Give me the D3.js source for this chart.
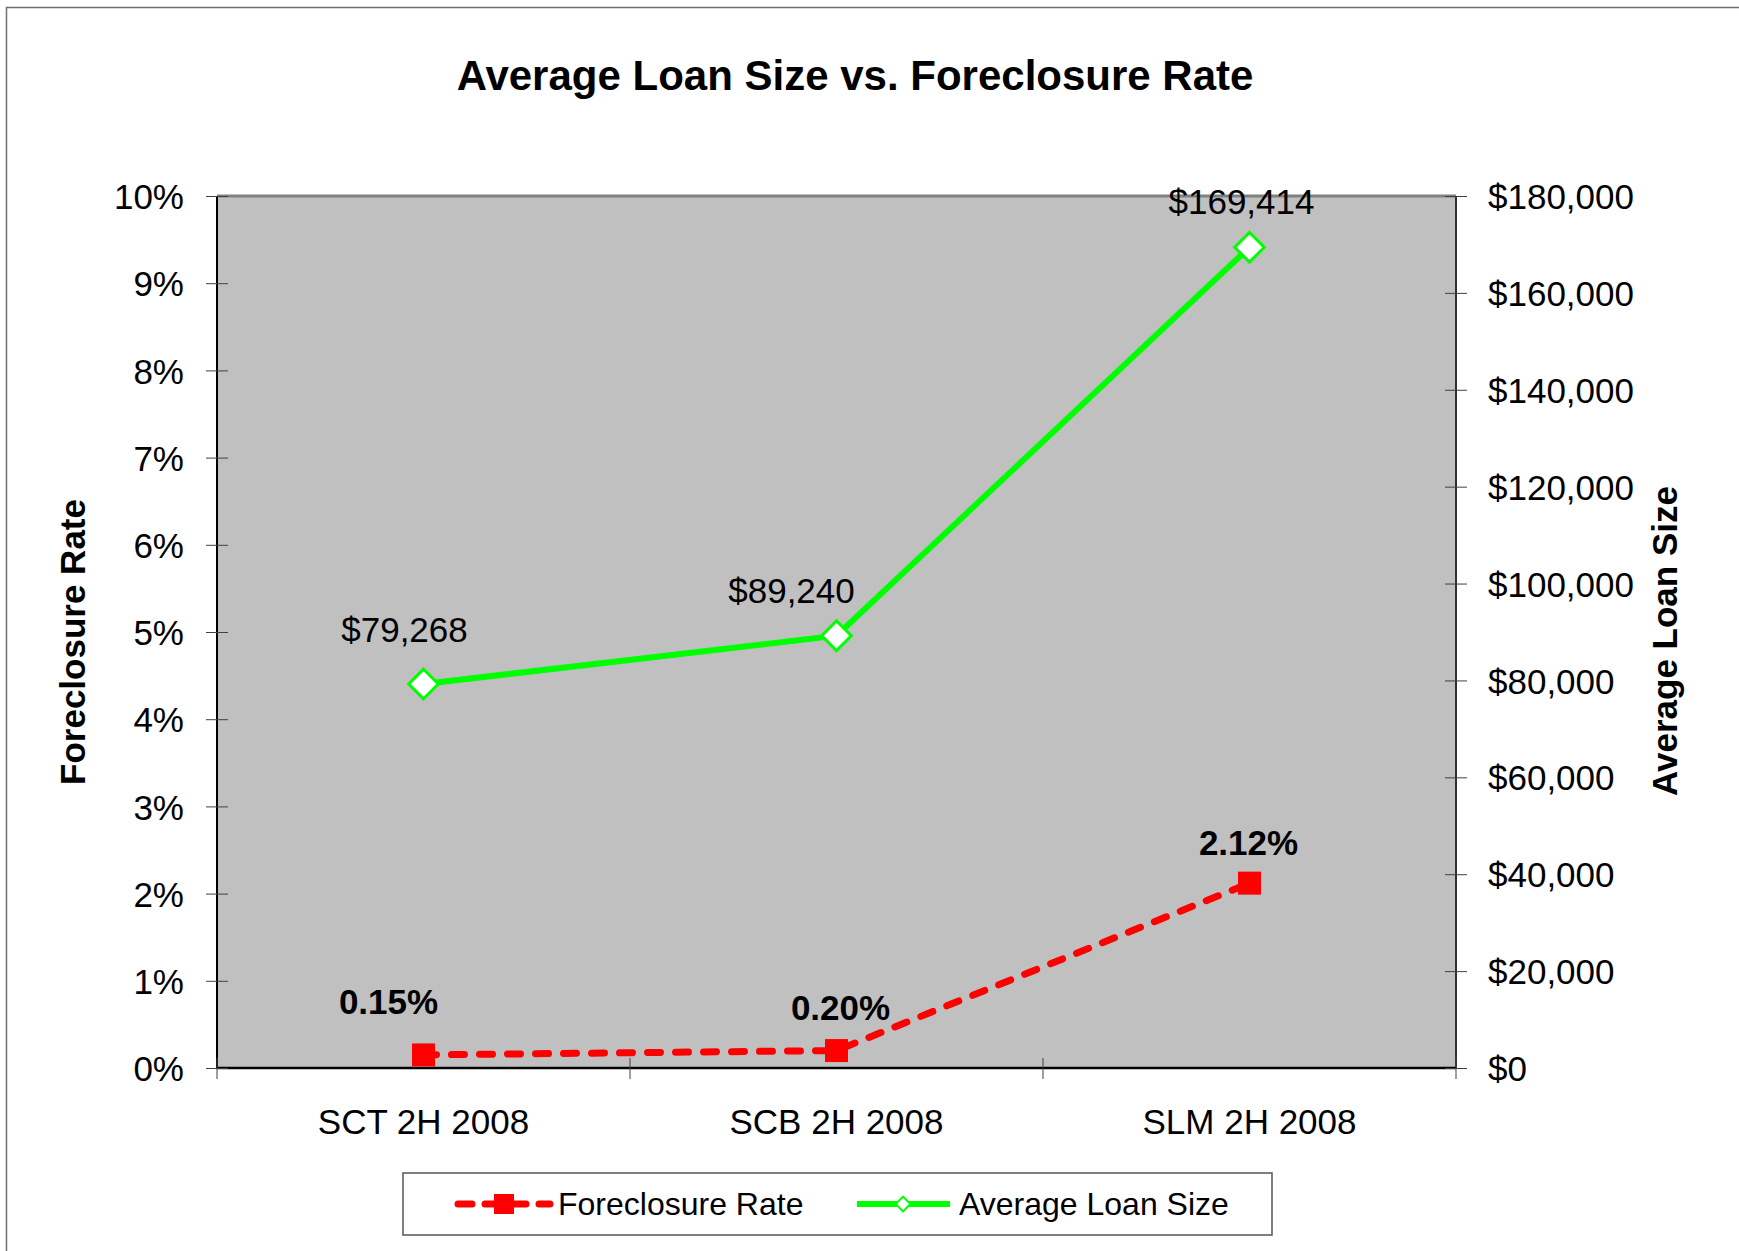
<!DOCTYPE html>
<html lang="en">
<head>
<meta charset="utf-8">
<title>Average Loan Size vs. Foreclosure Rate</title>
<script src="https://cdn.jsdelivr.net/npm/d3@7"></script>
<style>
  body { margin: 0; background: #fff; }
  svg text { font-family: "Liberation Sans", Arial, sans-serif; fill: #000; }
  .axis path { display: none; }
  .axis line { stroke: #404040; stroke-width: 1; }
  .axis text { font-size: 35px; }
</style>
</head>
<body>
<script>
// data
const categories = ["SCT 2H 2008", "SCB 2H 2008", "SLM 2H 2008"];
const foreclosureRate = [0.0015, 0.0020, 0.0212];
const avgLoanSize = [79268, 89240, 169414];
const rateTicks = [0, 0.01, 0.02, 0.03, 0.04, 0.05, 0.06, 0.07, 0.08, 0.09, 0.10];
const loanTicks = [0, 20000, 40000, 60000, 80000, 100000, 120000, 140000, 160000, 180000];

const W = 1739, H = 1251;
const margin = {top: 196, right: 283, bottom: 183, left: 217};
const iw = W - margin.left - margin.right,
      ih = H - margin.top - margin.bottom;

const svg = d3.select("body").append("svg")
    .attr("width", W).attr("height", H);

// outer chart frame (runs off right/bottom edge like the original)
svg.append("rect")
    .attr("x", 6.5).attr("y", 7.5)
    .attr("width", W + 20).attr("height", H + 20)
    .attr("fill", "none").attr("stroke", "#707070").attr("stroke-width", 1.5);

svg.append("text")
    .attr("x", 855).attr("y", 90)
    .attr("text-anchor", "middle")
    .attr("font-size", 42).attr("font-weight", "bold")
    .text("Average Loan Size vs. Foreclosure Rate");

const g = svg.append("g").attr("transform", `translate(${margin.left},${margin.top})`);

const x = d3.scaleBand().domain(categories).range([0, iw]);
const yL = d3.scaleLinear().domain([0, 0.10]).range([ih, 0]);
const yR = d3.scaleLinear().domain([0, 180000]).range([ih, 0]);

// plot area
g.append("rect").attr("width", iw).attr("height", ih).attr("fill", "#c0c0c0");
g.append("line").attr("x1", 0).attr("x2", iw).attr("y1", 0).attr("y2", 0)
    .attr("stroke", "#808080").attr("stroke-width", 3);
g.append("line").attr("x1", iw).attr("x2", iw).attr("y1", 0).attr("y2", ih)
    .attr("stroke", "#303030").attr("stroke-width", 2);
g.append("line").attr("x1", 0).attr("x2", 0).attr("y1", 0).attr("y2", ih)
    .attr("stroke", "#000").attr("stroke-width", 2);
g.append("line").attr("x1", 0).attr("x2", iw).attr("y1", ih).attr("y2", ih)
    .attr("stroke", "#000").attr("stroke-width", 2.5);

// axes
const fmtPct = d3.format(".0%");
const fmtUsd = d => "$" + d3.format(",")(d);

const gL = g.append("g").attr("class", "axis")
    .call(d3.axisLeft(yL).tickValues(rateTicks).tickFormat(fmtPct).tickSize(11).tickPadding(22));
gL.selectAll(".tick line").attr("x1", 11);

const gR = g.append("g").attr("class", "axis").attr("transform", `translate(${iw},0)`)
    .call(d3.axisRight(yR).tickValues(loanTicks).tickFormat(fmtUsd).tickSize(11).tickPadding(21));
gR.selectAll(".tick line").attr("x1", -11);
gR.selectAll(".tick text").attr("dy", "0.36em");
gL.selectAll(".tick text").attr("dy", "0.36em");

// x ticks on band boundaries
const bounds = d3.range(categories.length + 1).map(i => i * x.step());
g.selectAll(".xtick").data(bounds).join("line")
    .attr("x1", d => d).attr("x2", d => d)
    .attr("y1", ih - 10).attr("y2", ih + 11)
    .attr("stroke", "#404040");
g.selectAll(".xlab").data(categories).join("text")
    .attr("x", d => x(d) + x.bandwidth() / 2)
    .attr("y", ih + 66)
    .attr("text-anchor", "middle").attr("font-size", 35)
    .text(d => d);

// axis titles
svg.append("text")
    .attr("transform", "translate(85,642) rotate(-90)")
    .attr("text-anchor", "middle").attr("font-size", 35).attr("font-weight", "bold")
    .text("Foreclosure Rate");
svg.append("text")
    .attr("transform", "translate(1677,641) rotate(-90)")
    .attr("text-anchor", "middle").attr("font-size", 35).attr("font-weight", "bold")
    .text("Average Loan Size");

const cx = i => x(categories[i]) + x.bandwidth() / 2;

// average loan size series
g.append("path")
    .datum(avgLoanSize)
    .attr("fill", "none").attr("stroke", "#00ff00").attr("stroke-width", 6)
    .attr("d", d3.line().x((d, i) => cx(i)).y(d => yR(d)));
const diamond = d3.symbol().type(d3.symbolSquare).size(441);
g.selectAll(".dia").data(avgLoanSize).join("path")
    .attr("d", diamond)
    .attr("transform", (d, i) => `translate(${cx(i)},${yR(d)}) rotate(45)`)
    .attr("fill", "#fff").attr("stroke", "#00ff00").attr("stroke-width", 3);

// foreclosure rate series
g.append("path")
    .datum(foreclosureRate)
    .attr("fill", "none").attr("stroke", "#ff0000").attr("stroke-width", 7)
    .attr("stroke-dasharray", "13,15").attr("stroke-linecap", "round")
    .attr("d", d3.line().x((d, i) => cx(i)).y(d => yL(d)));
g.selectAll(".sq").data(foreclosureRate).join("rect")
    .attr("x", (d, i) => cx(i) - 11.5).attr("y", d => yL(d) - 11.5)
    .attr("width", 23).attr("height", 23).attr("fill", "#ff0000");

// data labels (hand-placed in the original, so nudged here)
const loanNudge = [[-19, -42], [-45, -33], [-8, -33]];
g.selectAll(".ll").data(avgLoanSize).join("text")
    .attr("x", (d, i) => cx(i) + loanNudge[i][0])
    .attr("y", (d, i) => yR(d) + loanNudge[i][1])
    .attr("text-anchor", "middle").attr("font-size", 35)
    .text(d => fmtUsd(d));
const rateNudge = [[-35, -41], [4, -31], [-1, -28]];
g.selectAll(".rl").data(foreclosureRate).join("text")
    .attr("x", (d, i) => cx(i) + rateNudge[i][0])
    .attr("y", (d, i) => yL(d) + rateNudge[i][1])
    .attr("text-anchor", "middle").attr("font-size", 35).attr("font-weight", "bold")
    .text(d => d3.format(".2%")(d));

// legend
const lg = svg.append("g").attr("transform", "translate(403,1173)");
lg.append("rect").attr("width", 869).attr("height", 62)
    .attr("fill", "#fff").attr("stroke", "#555").attr("stroke-width", 1.5);
lg.append("line").attr("x1", 55).attr("x2", 147).attr("y1", 31).attr("y2", 31)
    .attr("stroke", "#ff0000").attr("stroke-width", 7)
    .attr("stroke-dasharray", "14,13").attr("stroke-linecap", "round");
lg.append("rect").attr("x", 91).attr("y", 21).attr("width", 20).attr("height", 20).attr("fill", "#ff0000");
lg.append("text").attr("x", 155).attr("y", 42).attr("font-size", 32).text("Foreclosure Rate");
lg.append("line").attr("x1", 454).attr("x2", 547).attr("y1", 31).attr("y2", 31)
    .attr("stroke", "#00ff00").attr("stroke-width", 6);
lg.append("path").attr("d", d3.symbol().type(d3.symbolSquare).size(110))
    .attr("transform", "translate(500,31) rotate(45)")
    .attr("fill", "#fff").attr("stroke", "#00ff00").attr("stroke-width", 2);
lg.append("text").attr("x", 556).attr("y", 42).attr("font-size", 32).text("Average Loan Size");
</script>
</body>
</html>
